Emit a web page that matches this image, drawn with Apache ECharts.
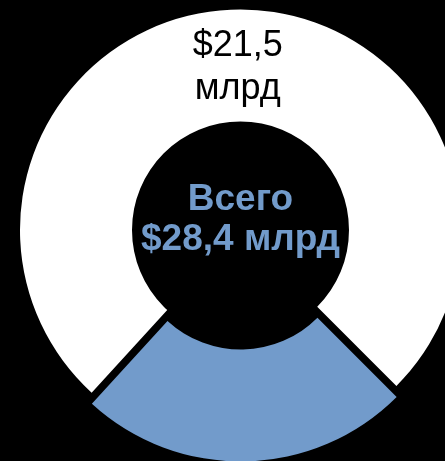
<!DOCTYPE html>
<html><head><meta charset="utf-8">
<script src="https://cdn.jsdelivr.net/npm/echarts@6/dist/echarts.min.js"></script>
<style>html,body{margin:0;padding:0;background:#000;}#c{width:445px;height:461px;}</style>
</head><body><div id="c"></div>
<script>
var categories = ['Синий сегмент', 'Белый сегмент'];
var values = [6.9, 21.5];
var labels = ['', '$21,5\nмлрд'];
var totalText = ['Всего', '$28,4 млрд'];
var colors = ['#729bcb', '#ffffff'];

var chart = echarts.init(document.getElementById('c'), null, {renderer: 'canvas'});
chart.setOption({
  backgroundColor: '#000000',
  animation: false,
  series: [{
    type: 'pie',
    center: [240.5, 230],
    radius: [108.5, 220.5],
    startAngle: 315,
    clockwise: true,
    selectedMode: 'single',
    selectedOffset: 11,
    avoidLabelOverlap: false,
    emphasis: {disabled: true},
    labelLine: {show: false},
    data: categories.map(function (c, i) {
      return {
        name: c,
        value: values[i],
        selected: i === 0,
        itemStyle: {color: colors[i], borderWidth: 0},
        label: {
          show: labels[i] !== '',
          position: 'inside',
          formatter: labels[i],
          color: '#000000',
          fontFamily: 'Liberation Sans, Arial, sans-serif',
          fontSize: 36,
          lineHeight: 43,
          offset: [1, 5]
        }
      };
    })
  }],
  graphic: [{
    type: 'text',
    x: 240.5,
    y: 220,
    style: {
      text: totalText.join('\n'),
      fill: '#729bcb',
      font: 'bold 37px "Liberation Sans", Arial, sans-serif',
      lineHeight: 40,
      align: 'center',
      verticalAlign: 'middle'
    }
  }]
});
</script>
</body></html>
